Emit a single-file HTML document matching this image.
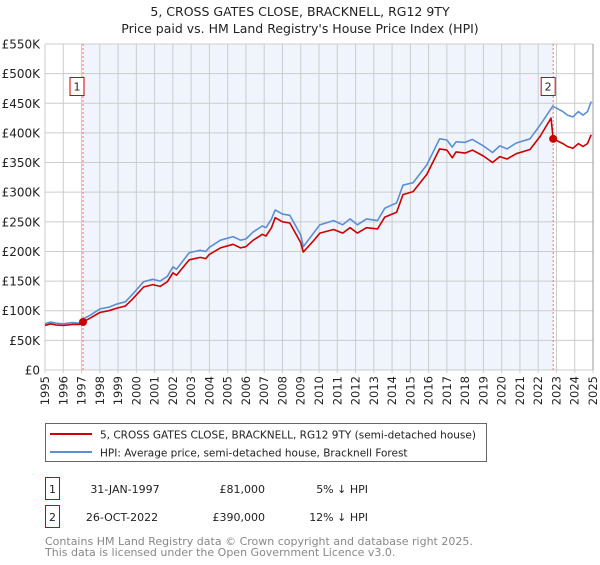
<!DOCTYPE html>
<html><head><meta charset="utf-8"><style>
body{margin:0;background:#fff;font-family:"Liberation Sans","DejaVu Sans",sans-serif;}
svg text{font-family:"DejaVu Sans","Liberation Sans",sans-serif;}
</style></head><body>
<svg id="chart" width="600" height="560" viewBox="0 0 600 560" xmlns="http://www.w3.org/2000/svg">
<text x="300" y="16" text-anchor="middle" font-size="12.5" fill="#222">5, CROSS GATES CLOSE, BRACKNELL, RG12 9TY</text>
<text x="300" y="33" text-anchor="middle" font-size="12.5" fill="#222">Price paid vs. HM Land Registry's House Price Index (HPI)</text>
<g id="plot"></g>
<g>
<rect x="45.5" y="423.5" width="441" height="38" fill="#fff" stroke="#666"/>
<line x1="50" y1="434" x2="92" y2="434" stroke="#cc0000" stroke-width="2"/>
<text x="100" y="438.5" font-size="10.5" fill="#222">5, CROSS GATES CLOSE, BRACKNELL, RG12 9TY (semi-detached house)</text>
<line x1="50" y1="452" x2="92" y2="452" stroke="#5b8fd4" stroke-width="2"/>
<text x="100" y="456.5" font-size="10.5" fill="#222">HPI: Average price, semi-detached house, Bracknell Forest</text>
</g>
<g font-size="11" fill="#222">
<rect x="45.5" y="477.5" width="14" height="22" fill="#fff" stroke="#cc0000"/>
<text x="52.5" y="493" text-anchor="middle">1</text>
<text x="125" y="493" text-anchor="middle">31-JAN-1997</text>
<text x="265" y="493" text-anchor="end">£81,000</text>
<text x="368" y="493" text-anchor="end">5% ↓ HPI</text>
<rect x="45.5" y="505.5" width="14" height="22" fill="#fff" stroke="#cc0000"/>
<text x="52.5" y="521" text-anchor="middle">2</text>
<text x="122" y="521" text-anchor="middle">26-OCT-2022</text>
<text x="265" y="521" text-anchor="end">£390,000</text>
<text x="368" y="521" text-anchor="end">12% ↓ HPI</text>
</g>
<text x="45" y="545" font-size="11" fill="#888">Contains HM Land Registry data © Crown copyright and database right 2025.</text>
<text x="45" y="556" font-size="11" fill="#888">This data is licensed under the Open Government Licence v3.0.</text>
</svg>
<script>
const yearTicks = [1995,1996,1997,1998,1999,2000,2001,2002,2003,2004,2005,2006,2007,2008,2009,2010,2011,2012,2013,2014,2015,2016,2017,2018,2019,2020,2021,2022,2023,2024,2025];
const valueTicks = [0,50,100,150,200,250,300,350,400,450,500,550];
const valueTickLabels = ["£0","£50K","£100K","£150K","£200K","£250K","£300K","£350K","£400K","£450K","£500K","£550K"];
const hpiDates = [1995.0,1995.3,1995.6,1996.0,1996.5,1996.9,1997.08,1997.5,1998.0,1998.5,1998.9,1999.4,1999.8,2000.4,2000.9,2001.3,2001.7,2002.0,2002.2,2002.9,2003.5,2003.8,2004.0,2004.6,2005.3,2005.7,2006.0,2006.4,2006.9,2007.1,2007.4,2007.6,2008.0,2008.4,2009.0,2009.14,2009.7,2010.05,2010.8,2011.3,2011.7,2012.1,2012.6,2013.2,2013.6,2014.25,2014.6,2015.15,2015.9,2016.6,2017.0,2017.3,2017.5,2018.0,2018.4,2019.0,2019.5,2019.9,2020.3,2020.8,2021.55,2022.1,2022.8,2023.35,2023.6,2023.9,2024.2,2024.45,2024.7,2024.9];
const hpiValues = [78,81,79,78,80,79,86,93,103,106,111,115,128,149,153,150,158,174,170,198,202,200,207,219,225,219,221,233,243,240,255,270,263,261,228,208,231,245,252,245,255,245,255,252,273,282,312,316,346,390,388,376,385,384,389,378,367,378,373,383,390,413,445,436,430,427,436,430,436,453];
const propDates = [1995.0,1995.3,1995.6,1996.0,1996.5,1996.9,1997.08,1997.5,1998.0,1998.5,1998.9,1999.4,1999.8,2000.4,2000.9,2001.3,2001.7,2002.0,2002.2,2002.9,2003.5,2003.8,2004.0,2004.6,2005.3,2005.7,2006.0,2006.4,2006.9,2007.1,2007.4,2007.6,2008.0,2008.4,2009.0,2009.14,2009.7,2010.05,2010.8,2011.3,2011.7,2012.1,2012.6,2013.2,2013.6,2014.25,2014.6,2015.15,2015.9,2016.6,2017.0,2017.3,2017.5,2018.0,2018.4,2019.0,2019.5,2019.9,2020.3,2020.8,2021.55,2022.1,2022.7,2022.82,2023.35,2023.6,2023.9,2024.2,2024.45,2024.7,2024.9];
const propValues = [75,78,76,75,77,77,81,88,97,100,104,108,120,140,144,141,149,164,160,186,190,188,195,206,212,206,208,219,229,226,240,257,250,248,215,199,218,231,237,231,240,231,240,238,258,266,296,301,330,373,371,358,368,366,371,361,350,360,356,365,372,394,425,390,382,377,374,382,377,382,397];
const saleDates = [1997.08,2022.82];
const saleValues = [81,390];
const saleLabels = ["1","2"];

const NS="http://www.w3.org/2000/svg";
const X0=45,X1=593,Y0=370,Y1=44;
const xs=y=>X0+(y-1995)/(2025-1995)*(X1-X0);
const ys=v=>Y0-v/550*(Y0-Y1);
const g=document.getElementById('plot');
function mk(tag,attrs,parent){const e=document.createElementNS(NS,tag);for(const k in attrs)e.setAttribute(k,attrs[k]);(parent||g).appendChild(e);return e;}

const shade=mk('rect',{x:xs(saleDates[0]),y:Y1,width:xs(saleDates[1])-xs(saleDates[0]),height:Y0-Y1,fill:'#f0f4fd'});



yearTicks.forEach(t=>{
  const l=mk('line',{x1:xs(t),x2:xs(t),y1:Y1,y2:Y0+3,stroke:'#cccccc','stroke-width':1});
  
  
  const wrap=mk('g',{transform:'translate('+(xs(t)+4)+',376) rotate(-90)'});
  
  
  const tx=mk('text',{x:0,y:0,'font-size':11.5,fill:'#222','text-anchor':'end'},wrap);
  tx.textContent=t;
  
  
});
valueTicks.forEach((v,i)=>{
  const l=mk('line',{x1:X0,x2:X1,y1:ys(v),y2:ys(v),stroke:'#cccccc','stroke-width':1});
  
  
  const tx=mk('text',{x:40,y:ys(v)+4.5,'font-size':12,fill:'#222','text-anchor':'end'});
  tx.textContent=valueTickLabels[i];
  
  
});
const rb=mk('line',{x1:X1,x2:X1,y1:Y1,y2:Y0,stroke:'#999','stroke-width':1});



saleDates.forEach((d,i)=>{
  const l=mk('line',{x1:xs(d),x2:xs(d),y1:Y1,y2:Y0,stroke:'#f07070','stroke-width':1,'stroke-dasharray':'2,2'});
  
  
});

function path(dates,vals,color,name){
  const d=dates.map((t,i)=>(i?'L':'M')+xs(t).toFixed(1)+','+ys(vals[i]).toFixed(1)).join(' ');
  const p=mk('path',{d:d,fill:'none',stroke:color,'stroke-width':1.6,'stroke-linejoin':'round'});
  
  
}
path(hpiDates,hpiValues,'#5b8fd4','hpi-line');
path(propDates,propValues,'#cc0000','property-price-line');

saleDates.forEach((d,i)=>{
  const c=mk('circle',{cx:xs(d),cy:ys(saleValues[i]),r:4,fill:'#cc0000'});
  
  
  const bx=xs(d)-(i===0?6:5)-7;
  const r=mk('rect',{x:bx,y:77.5,width:14,height:18,fill:'#fff',stroke:'#cc0000'});
  
  
  const t=mk('text',{x:bx+7,y:90.5,'font-size':11,fill:'#222','text-anchor':'middle'});
  t.textContent=saleLabels[i];
  
  
});
</script>
</body></html>
